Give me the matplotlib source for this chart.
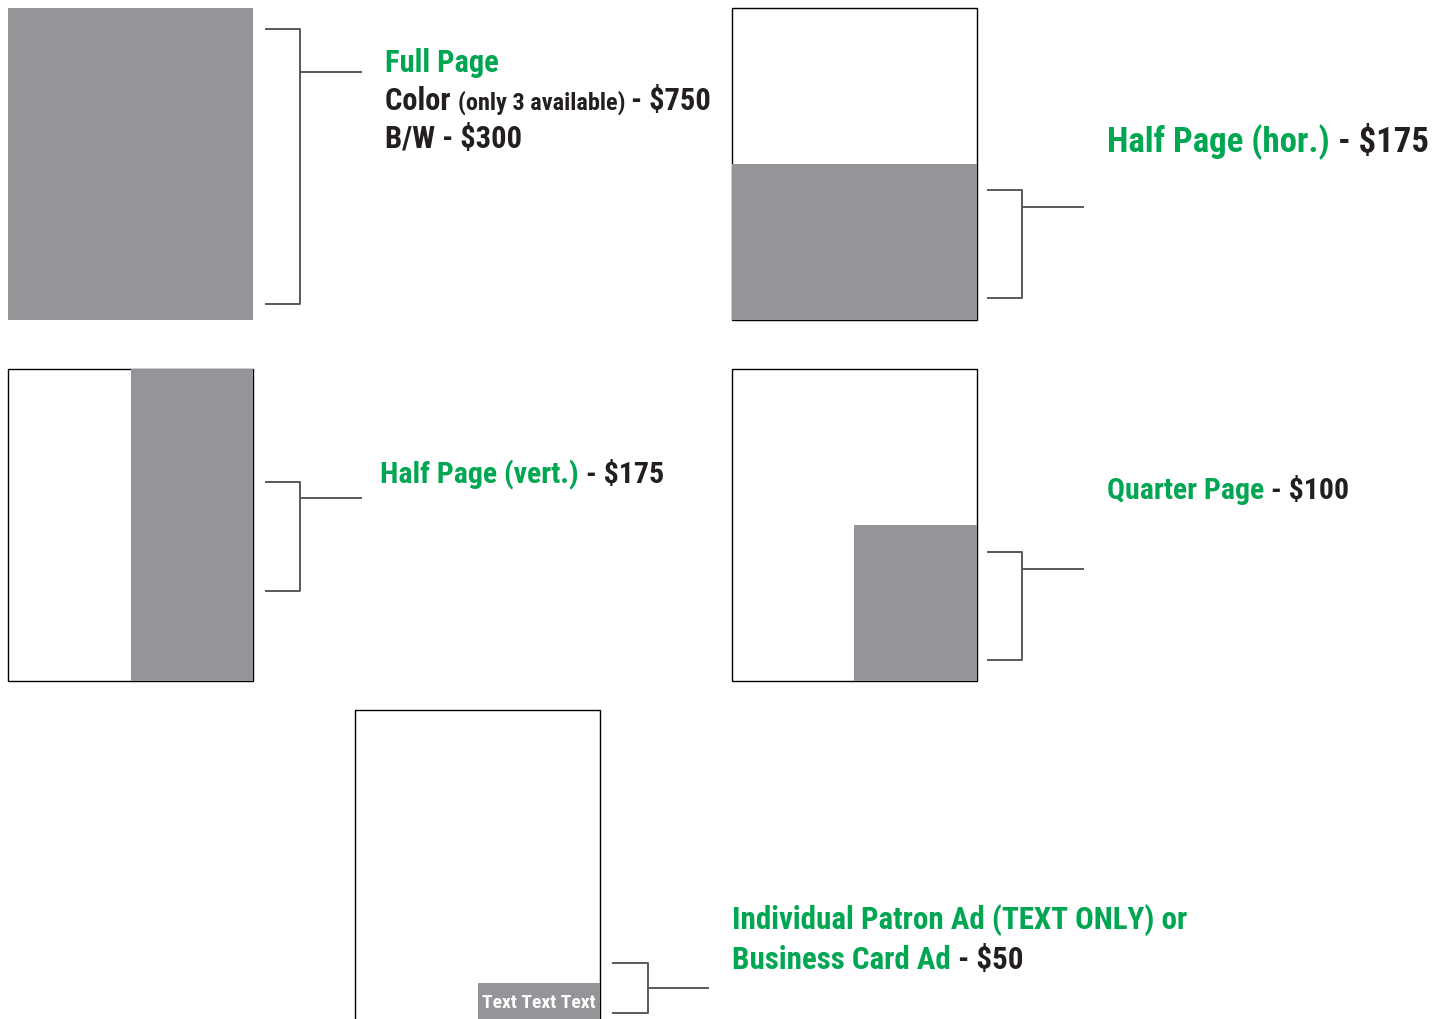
import matplotlib
matplotlib.use('Agg')
import matplotlib.pyplot as plt
from matplotlib.patches import Rectangle

# ad sizes and prices
ad_names = ['Full Page', 'Half Page (hor.)', 'Half Page (vert.)', 'Quarter Page',
            'Business Card Ad']
ad_prices = ['$750', '$175', '$175', '$100', '$50']
bw_price = '$300'
color_note = '(only 3 available)'
patron_line = 'Individual Patron Ad (TEXT ONLY) or'
card_text = 'Text Text Text'

GREEN = '#00a651'
DARK = '#231f20'
GRAY = '#939598'
LINE = '#58595b'
FONT = ['Roboto Condensed', 'DejaVu Sans']

fig = plt.figure(figsize=(14.43, 10.19), dpi=100)
ax = fig.add_axes([0, 0, 1, 1])
ax.set_xlim(0, 1443)
ax.set_ylim(1019, 0)
ax.axis('off')


def page(x, y, fill=None, border=True):
    ax.add_patch(Rectangle((x, y), 245, 312, facecolor='white',
                           edgecolor='black' if border else 'none', lw=1, zorder=1))
    if fill is not None:
        fx, fy, fw, fh = fill
        ax.add_patch(Rectangle((x + fx, y + fy), fw, fh, facecolor=GRAY,
                               edgecolor='none', zorder=2))


def bracket(x0, x1, y_top, y_bot, y_arm, arm_end):
    ax.plot([x0, x1, x1, x0], [y_top, y_top, y_bot, y_bot], color=LINE, lw=1.4)
    ax.plot([x1, arm_end], [y_arm, y_arm], color=LINE, lw=1.4)


def rich(x, y, parts):
    # parts: list of (text, color, size); drawn on one baseline
    fig.canvas.draw()
    r = fig.canvas.get_renderer()
    inv = ax.transData.inverted()
    for s, c, size in parts:
        t = ax.text(x, y, s, color=c, fontsize=size, family=FONT, fontstretch='condensed',
                    fontweight='bold', va='baseline', ha='left')
        bb = t.get_window_extent(renderer=r)
        x = inv.transform((bb.x1, bb.y0))[0]


# pages
page(8, 8, fill=(0, 0, 245, 312), border=False)
page(732, 8, fill=(0, 156, 245, 156))
page(8, 369, fill=(123, 0, 122, 312))
page(732, 369, fill=(122, 156, 123, 156))
page(355, 710)
ax.add_patch(Rectangle((478, 983), 122, 40, facecolor=GRAY, edgecolor='none', zorder=3))
ax.text(539, 1003, card_text, color='white', fontsize=14, family=FONT,
        fontstretch='condensed', fontweight='bold', ha='center', va='center', zorder=4)

# brackets
bracket(266, 300, 29, 304, 72, 361)
bracket(988, 1022, 190, 298, 207, 1083)
bracket(266, 300, 482, 591, 498, 361)
bracket(988, 1022, 552, 660, 569, 1083)
bracket(613, 648, 963, 1013, 988, 708)

# labels
rich(385, 72, [(ad_names[0], GREEN, 22)])
rich(385, 110, [('Color ', DARK, 22), (color_note + ' ', DARK, 17.5),
                ('- ' + ad_prices[0], DARK, 22)])
rich(385, 148, [('B/W - ' + bw_price, DARK, 22)])
rich(1107, 152, [(ad_names[1] + ' ', GREEN, 25), ('- ' + ad_prices[1], DARK, 25)])
rich(380, 483, [(ad_names[2] + ' ', GREEN, 21.5), ('- ' + ad_prices[2], DARK, 21.5)])
rich(1107, 499, [(ad_names[3] + ' ', GREEN, 21.5), ('- ' + ad_prices[3], DARK, 21.5)])
rich(732, 929, [(patron_line, GREEN, 22.3)])
rich(732, 969, [(ad_names[4] + ' ', GREEN, 22.3), ('- ' + ad_prices[4], DARK, 22.3)])

fig.savefig('out.png', dpi=100)
